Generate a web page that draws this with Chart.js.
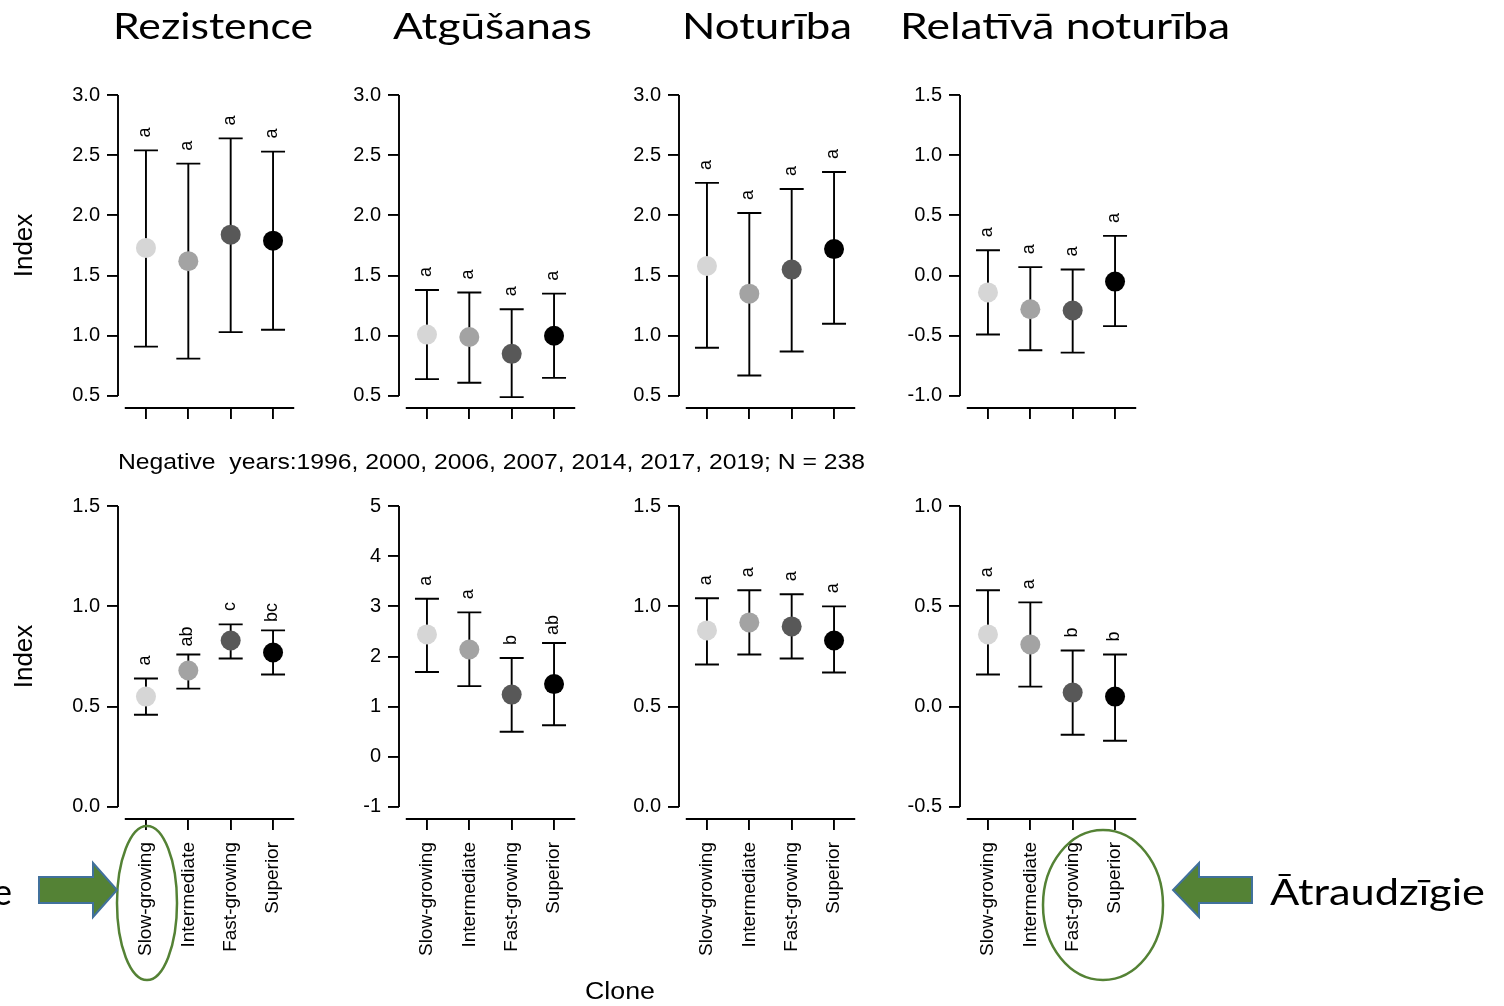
<!DOCTYPE html>
<html>
<head>
<meta charset="utf-8">
<title>Clone indices</title>
<script src="https://cdn.jsdelivr.net/npm/chart.js@4.4.1/dist/chart.umd.min.js"></script>
<style>
  html, body { margin: 0; padding: 0; background: #fff; }
  body { width: 1504px; height: 1006px; position: relative; overflow: hidden; }
  canvas { position: absolute; z-index: 1; }
  #notes { position: absolute; left: 0; top: 0; z-index: 2; pointer-events: none; }
</style>
</head>
<body>
<svg id="notes" width="1504" height="1006">
  <g font-family="Lato" font-size="37" fill="#000">
    <text x="113" y="39" textLength="200" lengthAdjust="spacingAndGlyphs">Rezistence</text>
    <text x="393" y="39" textLength="199" lengthAdjust="spacingAndGlyphs">Atgūšanas</text>
    <text x="682" y="39" textLength="170" lengthAdjust="spacingAndGlyphs">Noturība</text>
    <text x="900" y="39" textLength="330" lengthAdjust="spacingAndGlyphs">Relatīvā noturība</text>
  </g>
  <g font-family="Liberation Sans" fill="#000">
    <text x="118" y="469" font-size="22" style="white-space:pre" textLength="747" lengthAdjust="spacingAndGlyphs">Negative  years:1996, 2000, 2006, 2007, 2014, 2017, 2019; N = 238</text>
    <text x="585" y="999" font-size="23" textLength="70" lengthAdjust="spacingAndGlyphs">Clone</text>
  </g>
  <g font-family="Lato" font-size="36" fill="#000">
    <text x="12" y="905" text-anchor="end">Lēnaudzīgie</text>
    <text x="1270" y="905" textLength="215" lengthAdjust="spacingAndGlyphs">Ātraudzīgie</text>
  </g>
  <g fill="none" stroke="#548235" stroke-width="2.5">
    <ellipse cx="147" cy="903" rx="30" ry="77"/>
    <ellipse cx="1103" cy="905" rx="60" ry="75"/>
  </g>
  <g fill="#548235" stroke="#41719c" stroke-width="2" stroke-linejoin="miter">
    <polygon points="39,877 93,877 93,863 117,890 93,917 93,903 39,903"/>
    <polygon points="1252,877 1199,877 1199,863 1173,890 1199,917 1199,903 1252,903"/>
  </g>
</svg>
<script>
const clones = ['Slow-growing', 'Intermediate', 'Fast-growing', 'Superior'];
const cloneColors = ['#d6d6d6', '#a3a3a3', '#585858', '#000000'];

// all years
const rezMean = [1.73, 1.62, 1.84, 1.79];
const rezLow = [0.91, 0.81, 1.03, 1.05];
const rezHigh = [2.54, 2.43, 2.64, 2.53];
const rezLetters = ['a', 'a', 'a', 'a'];

const atgMean = [1.01, 0.99, 0.85, 1.00];
const atgLow = [0.64, 0.61, 0.49, 0.65];
const atgHigh = [1.38, 1.36, 1.22, 1.35];
const atgLetters = ['a', 'a', 'a', 'a'];

const notMean = [1.58, 1.35, 1.55, 1.72];
const notLow = [0.90, 0.67, 0.87, 1.10];
const notHigh = [2.27, 2.02, 2.22, 2.36];
const notLetters = ['a', 'a', 'a', 'a'];

const relMean = [-0.14, -0.28, -0.29, -0.05];
const relLow = [-0.49, -0.62, -0.64, -0.42];
const relHigh = [0.21, 0.07, 0.05, 0.33];
const relLetters = ['a', 'a', 'a', 'a'];

// negative years
const rezNegMean = [0.55, 0.68, 0.83, 0.77];
const rezNegLow = [0.46, 0.59, 0.74, 0.66];
const rezNegHigh = [0.64, 0.76, 0.91, 0.88];
const rezNegLetters = ['a', 'ab', 'c', 'bc'];

const atgNegMean = [2.44, 2.14, 1.24, 1.45];
const atgNegLow = [1.69, 1.41, 0.50, 0.63];
const atgNegHigh = [3.15, 2.88, 1.97, 2.27];
const atgNegLetters = ['a', 'a', 'b', 'ab'];

const notNegMean = [0.88, 0.92, 0.90, 0.83];
const notNegLow = [0.71, 0.76, 0.74, 0.67];
const notNegHigh = [1.04, 1.08, 1.06, 1.00];
const notNegLetters = ['a', 'a', 'a', 'a'];

const relNegMean = [0.36, 0.31, 0.07, 0.05];
const relNegLow = [0.16, 0.10, -0.14, -0.17];
const relNegHigh = [0.58, 0.52, 0.28, 0.26];
const relNegLetters = ['a', 'a', 'b', 'b'];

// y tick labels
const yTicksIdx = [0.5, 1.0, 1.5, 2.0, 2.5, 3.0];
const yTicksRel = [-1.0, -0.5, 0.0, 0.5, 1.0, 1.5];
const yTicksRezNeg = [0.0, 0.5, 1.0, 1.5];
const yTicksAtgNeg = [-1, 0, 1, 2, 3, 4, 5];
const yTicksNotNeg = [0.0, 0.5, 1.0, 1.5];
const yTicksRelNeg = [-0.5, 0.0, 0.5, 1.0];

// layout of the 2 x 4 grid
const colX = [118, 399, 679, 960];
const rowTop = [83, 494];
const plotW = 183, plotH = 325;

const panels = [
  { row: 0, col: 0, mean: rezMean, low: rezLow, high: rezHigh, letters: rezLetters, ticks: yTicksIdx, dec: 1 },
  { row: 0, col: 1, mean: atgMean, low: atgLow, high: atgHigh, letters: atgLetters, ticks: yTicksIdx, dec: 1 },
  { row: 0, col: 2, mean: notMean, low: notLow, high: notHigh, letters: notLetters, ticks: yTicksIdx, dec: 1 },
  { row: 0, col: 3, mean: relMean, low: relLow, high: relHigh, letters: relLetters, ticks: yTicksRel, dec: 1 },
  { row: 1, col: 0, mean: rezNegMean, low: rezNegLow, high: rezNegHigh, letters: rezNegLetters, ticks: yTicksRezNeg, dec: 1 },
  { row: 1, col: 1, mean: atgNegMean, low: atgNegLow, high: atgNegHigh, letters: atgNegLetters, ticks: yTicksAtgNeg, dec: 0 },
  { row: 1, col: 2, mean: notNegMean, low: notNegLow, high: notNegHigh, letters: notNegLetters, ticks: yTicksNotNeg, dec: 1 },
  { row: 1, col: 3, mean: relNegMean, low: relNegLow, high: relNegHigh, letters: relNegLetters, ticks: yTicksRelNeg, dec: 1 }
];

// axis lines in base-R style plus error bars and group letters
const rStyle = {
  id: 'rStyle',
  beforeDatasetsDraw(chart) {
    const { ctx, chartArea, scales: { x, y } } = chart;
    const ds = chart.data.datasets[0];
    const yt = y.ticks;
    ctx.save();
    ctx.strokeStyle = '#000';
    ctx.lineWidth = 1.9;
    ctx.beginPath();
    ctx.moveTo(chartArea.left, y.getPixelForValue(yt[0].value));
    ctx.lineTo(chartArea.left, y.getPixelForValue(yt[yt.length - 1].value));
    ctx.moveTo(x.getPixelForValue(0.5), chartArea.bottom);
    ctx.lineTo(x.getPixelForValue(4.5), chartArea.bottom);
    ctx.stroke();

    ds.data.forEach((pt, i) => {
      const px = x.getPixelForValue(pt.x);
      const lo = y.getPixelForValue(ds.low[i]);
      const hi = y.getPixelForValue(ds.high[i]);
      ctx.beginPath();
      ctx.moveTo(px, lo); ctx.lineTo(px, hi);
      ctx.moveTo(px - 12, lo); ctx.lineTo(px + 12, lo);
      ctx.moveTo(px - 12, hi); ctx.lineTo(px + 12, hi);
      ctx.stroke();
    });
    ctx.restore();
  },
  afterDatasetsDraw(chart) {
    const { ctx, scales: { x, y } } = chart;
    const ds = chart.data.datasets[0];
    ctx.save();
    ctx.font = '18px "Liberation Sans"';
    ctx.fillStyle = '#000';
    ctx.textAlign = 'center';
    ctx.textBaseline = 'middle';
    ds.data.forEach((pt, i) => {
      ctx.save();
      ctx.translate(x.getPixelForValue(pt.x) - 1, y.getPixelForValue(ds.high[i]) - 18);
      ctx.rotate(-Math.PI / 2);
      ctx.fillText(ds.letters[i], 0, 0);
      ctx.restore();
    });
    ctx.restore();
  }
};

panels.forEach((p) => {
  const axisW = p.col === 0 ? 118 : 80;
  const xAxisH = p.row === 0 ? 20 : 150;
  const padTop = 20, padRight = 10;

  const cv = document.createElement('canvas');
  cv.width = axisW + plotW + padRight;
  cv.height = padTop + plotH + xAxisH;
  cv.style.left = (colX[p.col] - axisW) + 'px';
  cv.style.top = (rowTop[p.row] - padTop) + 'px';
  document.body.appendChild(cv);

  // R pads the axis range by 4% on each side
  const lo = p.ticks[0], hi = p.ticks[p.ticks.length - 1];
  const pad = (hi - lo) * 0.04;

  new Chart(cv.getContext('2d'), {
    type: 'scatter',
    data: {
      datasets: [{
        data: p.mean.map((v, i) => ({ x: i + 1, y: v })),
        low: p.low,
        high: p.high,
        letters: p.letters,
        pointRadius: 10,
        pointHoverRadius: 10,
        pointBackgroundColor: cloneColors,
        pointBorderWidth: 0,
        clip: false
      }]
    },
    options: {
      responsive: false,
      animation: false,
      events: [],
      layout: { padding: { top: padTop, right: padRight, left: 0, bottom: 0 } },
      plugins: { legend: { display: false }, tooltip: { enabled: false } },
      scales: {
        x: {
          type: 'linear',
          min: 0.34,
          max: 4.66,
          afterBuildTicks: (s) => { s.ticks = clones.map((c, i) => ({ value: i + 1 })); },
          afterFit: (s) => { s.height = xAxisH; s.paddingLeft = 0; s.paddingRight = 0; },
          border: { display: false },
          grid: { drawOnChartArea: false, color: '#000', lineWidth: 1.9, tickLength: 11 },
          ticks: {
            display: p.row === 1,
            autoSkip: false,
            minRotation: 90,
            maxRotation: 90,
            padding: 12,
            color: '#000',
            font: { family: 'Liberation Sans', size: 19 },
            callback: (v) => clones[v - 1]
          }
        },
        y: {
          min: lo - pad,
          max: hi + pad,
          afterBuildTicks: (s) => { s.ticks = p.ticks.map((v) => ({ value: v })); },
          afterFit: (s) => { s.width = axisW; s.paddingTop = 0; s.paddingBottom = 0; },
          border: { display: false },
          grid: { drawOnChartArea: false, color: '#000', lineWidth: 1.9, tickLength: 11 },
          ticks: {
            padding: 7,
            color: '#000',
            font: { family: 'Liberation Sans', size: 20 },
            callback: (v) => Number(v).toFixed(p.dec)
          },
          title: {
            display: p.col === 0,
            text: 'Index',
            color: '#000',
            font: { family: 'Liberation Sans', size: 26 },
            padding: { top: 9, bottom: 0 }
          }
        }
      }
    },
    plugins: [rStyle]
  });
});
</script>
</body>
</html>
